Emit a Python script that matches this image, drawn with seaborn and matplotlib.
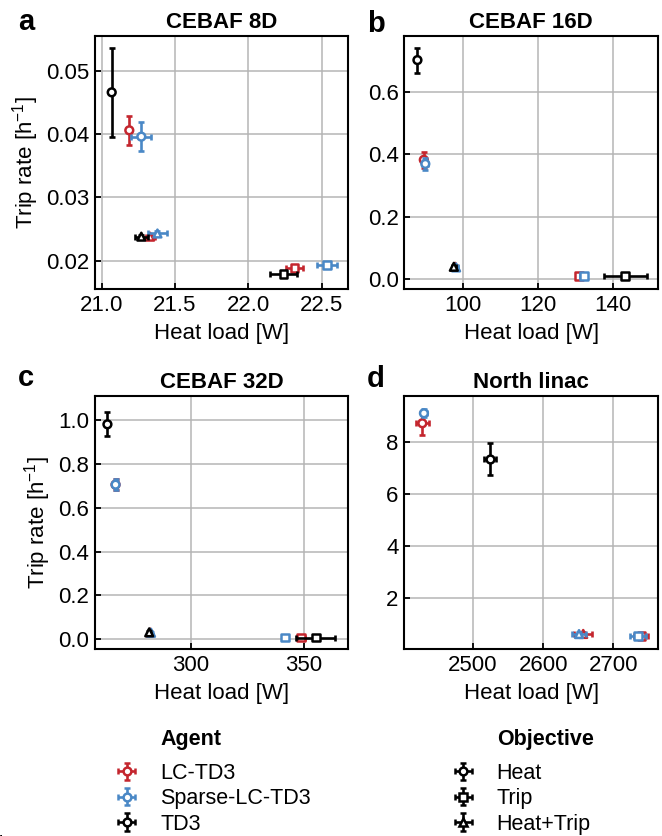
import numpy as np
import pandas as pd
import matplotlib
matplotlib.use("Agg")
import matplotlib.pyplot as plt
import seaborn as sns
from matplotlib.container import ErrorbarContainer
from matplotlib.legend_handler import HandlerErrorbar

# DATA
AGENTS = ["LC-TD3", "Sparse-LC-TD3", "TD3"]
OBJECTIVES = ["Heat", "Trip", "Heat+Trip"]
PANELS = ["CEBAF 8D", "CEBAF 16D", "CEBAF 32D", "North linac"]
LETTERS = ["a", "b", "c", "d"]

# rows follow AGENTS, columns follow OBJECTIVES
heat_8d = [[21.188, 22.315, 21.33], [21.27, 22.537, 21.38], [21.068, 22.24, 21.27]]
heat_err_8d = [[0.015, 0.057, 0.03], [0.068, 0.07, 0.063], [0.01, 0.095, 0.045]]
trip_8d = [[0.0406, 0.0188, 0.0238], [0.0396, 0.0193, 0.0243], [0.0466, 0.01785, 0.0238]]
trip_err_8d = [[0.0023, 0.0004, 0.0003], [0.0023, 0.0003, 0.0004], [0.007, 0.0003, 0.0003]]

heat_16d = [[89.6, 131.0, 98.0], [90.0, 132.2, 98.2], [87.9, 143.3, 97.6]]
heat_err_16d = [[0.5, 0.8, 0.5], [0.6, 1.0, 0.4], [0.3, 5.8, 0.5]]
trip_16d = [[0.382, 0.0106, 0.040], [0.369, 0.0106, 0.038], [0.701, 0.0106, 0.040]]
trip_err_16d = [[0.025, 0.003, 0.004], [0.02, 0.003, 0.004], [0.04, 0.003, 0.004]]

heat_32d = [[266.6, 348.6, 282.0], [266.6, 341.6, 282.3], [263.0, 355.2, 281.5]]
heat_err_32d = [[0.8, 1.8, 0.5], [0.8, 0.3, 0.4], [0.3, 8.5, 0.4]]
trip_32d = [[0.705, 0.008, 0.031], [0.705, 0.008, 0.030], [0.98, 0.008, 0.032]]
trip_err_32d = [[0.025, 0.003, 0.004], [0.025, 0.003, 0.004], [0.055, 0.003, 0.004]]

heat_nl = [[2427.7, 2740.0, 2657.0], [2430.0, 2735.0, 2651.0], [2524.0, np.nan, np.nan]]
heat_err_nl = [[9.0, 10.0, 13.0], [4.0, 11.0, 10.0], [8.0, np.nan, np.nan]]
trip_nl = [[8.73, 0.55, 0.62], [9.115, 0.55, 0.615], [7.35, np.nan, np.nan]]
trip_err_nl = [[0.45, 0.08, 0.08], [0.15, 0.08, 0.08], [0.62, np.nan, np.nan]]

COLORS = {"LC-TD3": "#c4262e", "Sparse-LC-TD3": "#4a88c6", "TD3": "black"}
MARKERS = {"Heat": "o", "Trip": "s", "Heat+Trip": "^"}

# axis setup per panel
XLIMS = [(20.954, 22.68), (84.4, 152.1), (257.5, 369.5), (2402, 2764)]
YLIMS = [(0.01553, 0.0555), (-0.031, 0.778), (-0.044, 1.109), (0.04, 9.78)]
XTICKS = [[21.0, 21.5, 22.0, 22.5], [100, 120, 140], [300, 350], [2500, 2600, 2700]]
YTICKS = [[0.02, 0.03, 0.04, 0.05], [0.0, 0.2, 0.4, 0.6],
          [0.0, 0.2, 0.4, 0.6, 0.8, 1.0], [2, 4, 6, 8]]

# tidy table for plotting
rows = []
panel_data = [
    (heat_8d, heat_err_8d, trip_8d, trip_err_8d),
    (heat_16d, heat_err_16d, trip_16d, trip_err_16d),
    (heat_32d, heat_err_32d, trip_32d, trip_err_32d),
    (heat_nl, heat_err_nl, trip_nl, trip_err_nl),
]
for p, (hx, hxe, ty, tye) in zip(PANELS, panel_data):
    for i, agent in enumerate(AGENTS):
        for j, obj in enumerate(OBJECTIVES):
            rows.append({"panel": p, "agent": agent, "objective": obj,
                         "heat": hx[i][j], "heat_err": hxe[i][j],
                         "trip": ty[i][j], "trip_err": tye[i][j]})
df = pd.DataFrame(rows).dropna()

# STYLE
sns.set_theme(style="ticks", rc={"text.color": "black", "axes.labelcolor": "black",
                                 "xtick.color": "black", "ytick.color": "black"})
plt.rcParams["font.family"] = ["Liberation Sans", "DejaVu Sans"]
plt.rcParams["axes.edgecolor"] = "black"
plt.rcParams["axes.linewidth"] = 1.5

fig = plt.figure(figsize=(6.62, 8.36), dpi=100)
positions = [
    [95 / 662, 1 - 289 / 836, 253 / 662, 253 / 836],
    [404.3 / 662, 1 - 289 / 836, 254 / 662, 253 / 836],
    [95 / 662, 1 - 649 / 836, 253 / 662, 253 / 836],
    [404.3 / 662, 1 - 649 / 836, 254 / 662, 253 / 836],
]
letter_pos = [(18, 30), (366.7, 31.5), (18, 386), (366.7, 386.5)]

ms = 5.6
eb_kw = dict(elinewidth=1.9, capsize=2.5, capthick=1.9)

for k, panel in enumerate(PANELS):
    ax = fig.add_axes(positions[k])
    sub = df[df["panel"] == panel]
    for i, agent in enumerate(AGENTS):
        d = sub[sub["agent"] == agent]
        if d.empty:
            continue
        c = COLORS[agent]
        ax.errorbar(d["heat"], d["trip"], xerr=d["heat_err"], yerr=d["trip_err"],
                    fmt="none", ecolor=c, zorder=3 + 2 * i, **eb_kw)
        sns.scatterplot(data=d, x="heat", y="trip", style="objective",
                        markers=MARKERS, s=ms ** 2, color="white", edgecolor=c,
                        linewidth=1.8, legend=False, zorder=4 + 2 * i, ax=ax)

    ax.set_xlim(*XLIMS[k])
    ax.set_ylim(*YLIMS[k])
    ax.set_xticks(XTICKS[k])
    ax.set_yticks(YTICKS[k])
    ax.grid(True, color="#b5b5b5", lw=1.1)
    ax.set_axisbelow(True)
    ax.tick_params(direction="in", length=4, width=1.3, labelsize=16, pad=4,
                   colors="black")
    for s in ax.spines.values():
        s.set_visible(True)
        s.set_linewidth(1.5)
    ax.set_title(panel, fontsize=16, fontweight="bold", pad=6)
    ax.set_xlabel("Heat load [W]", fontsize=16, labelpad=5)
    if k % 2 == 0:
        ax.set_ylabel("Trip rate [h$^{\\mathregular{-1}}$]", fontsize=16, labelpad=4)
    else:
        ax.set_ylabel("")
    lx, ly = letter_pos[k]
    fig.text(lx / 662, 1 - ly / 836, LETTERS[k], fontsize=21, fontweight="bold",
             ha="left", va="baseline")

# LEGENDS
dummy = fig.add_axes([0, 0, 0.001, 0.001])
dummy.set_axis_off()


def make_handle(color, marker):
    return dummy.errorbar([0], [0], xerr=[1], yerr=[1], fmt=marker, ms=ms,
                          mfc="white", mec=color, mew=1.8, ecolor=color, **eb_kw)


agent_handles = [make_handle(COLORS[a], "o") for a in AGENTS]
obj_handles = [make_handle("black", MARKERS[o]) for o in OBJECTIVES]
hmap = {ErrorbarContainer: HandlerErrorbar(xerr_size=0.4)}

leg_kw = dict(frameon=False, fontsize=15.5, handlelength=1.4, handletextpad=0.85,
              labelspacing=0.2, borderpad=0, borderaxespad=0, handler_map=hmap,
              loc="upper left")
fig.legend(agent_handles, AGENTS, bbox_to_anchor=(111.7 / 662, 1 - 763 / 836), **leg_kw)
fig.legend(obj_handles, OBJECTIVES, bbox_to_anchor=(448.3 / 662, 1 - 763 / 836), **leg_kw)
fig.text(160 / 662, 1 - 740 / 836, "Agent", fontsize=15.5, fontweight="bold",
         ha="left", va="center")
fig.text(496.7 / 662, 1 - 740 / 836, "Objective", fontsize=15.5, fontweight="bold",
         ha="left", va="center")

fig.savefig("out.png", dpi=100)
